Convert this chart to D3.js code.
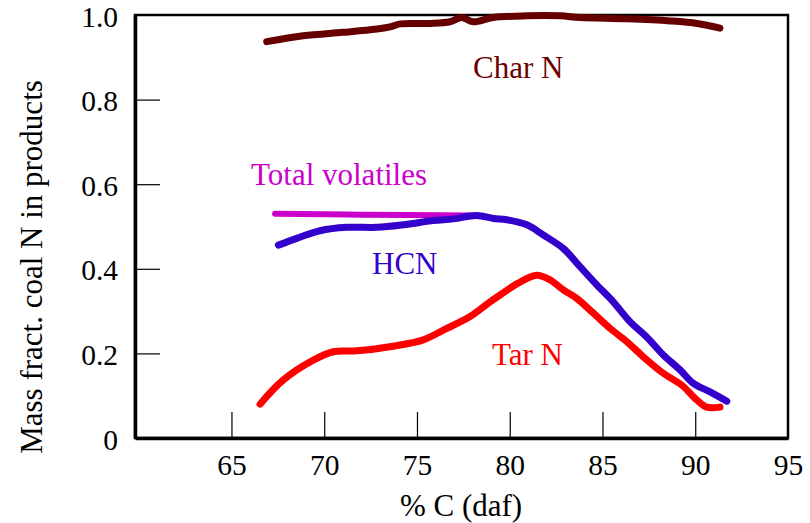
<!DOCTYPE html>
<html>
<head>
<meta charset="utf-8">
<script src="https://cdn.jsdelivr.net/npm/d3@7/dist/d3.min.js"></script>
<style>
  html, body { margin: 0; padding: 0; background: #fff; }
  svg { display: block; }
</style>
</head>
<body>
<svg id="chart" width="810" height="523"></svg>
<script>
// Fraction of coal nitrogen ending up in each product vs. carbon content (% C, daf)
const FONT = "'Liberation Serif', 'Times New Roman', Tinos, 'DejaVu Serif', serif";

const xTicks = [65, 70, 75, 80, 85, 90, 95];
const yTicks = [0, 0.2, 0.4, 0.6, 0.8, 1.0];
const yTickLabels = ["0", "0.2", "0.4", "0.6", "0.8", "1.0"];

const charNC = [66.9, 68.86, 71.0, 72.47, 73.55, 74.09, 75.7, 76.78, 77.41, 78.02, 79.1, 80.93, 82.71, 83.79, 86.32, 88.64, 90.1, 91.33];
const charN  = [0.937, 0.951, 0.959, 0.965, 0.972, 0.979, 0.980, 0.984, 0.994, 0.984, 0.994, 0.998, 0.998, 0.994, 0.991, 0.986, 0.980, 0.969];

const volC = [67.35, 72.0, 78.04];
const vol  = [0.530, 0.528, 0.526];

const hcnC = [67.53, 68.52, 69.77, 71.21, 72.83, 74.26, 75.88, 76.96, 78.22, 79.12, 79.84, 80.92, 81.81, 82.89, 83.79, 84.69, 85.58, 86.48, 87.38, 88.28, 89.18, 89.9, 90.8, 91.7];
const hcn  = [0.456, 0.472, 0.490, 0.498, 0.498, 0.504, 0.514, 0.518, 0.526, 0.519, 0.516, 0.504, 0.480, 0.448, 0.405, 0.362, 0.322, 0.275, 0.239, 0.196, 0.161, 0.129, 0.109, 0.087];

const tarC = [66.54, 67.79, 69.41, 70.49, 71.75, 73.72, 75.34, 76.42, 77.86, 78.94, 79.48, 80.45, 81.45, 82.17, 82.89, 83.61, 84.51, 85.41, 86.31, 87.2, 88.28, 89.27, 90.08, 90.62, 91.33];
const tar  = [0.080, 0.137, 0.184, 0.204, 0.206, 0.217, 0.232, 0.255, 0.287, 0.322, 0.338, 0.366, 0.385, 0.374, 0.350, 0.330, 0.295, 0.259, 0.228, 0.192, 0.153, 0.125, 0.090, 0.073, 0.073];

const svg = d3.select("#chart");
const x = d3.scaleLinear().domain([59.8, 95]).range([135, 788]);
const y = d3.scaleLinear().domain([0, 1]).range([438, 15]);

// frame
svg.append("rect")
  .attr("x", x(59.8)).attr("y", y(1))
  .attr("width", x(95) - x(59.8)).attr("height", y(0) - y(1))
  .attr("fill", "none").attr("stroke", "#000").attr("stroke-width", 2.5);

// bottom axis: inward ticks, labels below
const xAxis = d3.axisBottom(x).tickValues(xTicks).tickSize(-26).tickSizeOuter(0).tickPadding(0).tickFormat(d3.format("d"));
const gx = svg.append("g").attr("transform", `translate(0,${y(0)})`).call(xAxis);
gx.attr("font-family", FONT);
gx.select(".domain").attr("stroke", "#000").attr("stroke-width", 3.5);
gx.selectAll(".tick line").attr("stroke", "#000").attr("stroke-width", 1.2).filter(d => d === 95).remove();
gx.selectAll(".tick text").attr("y", 37).attr("dy", 0)
  .attr("font-family", FONT).attr("font-size", 29.5).attr("fill", "#000");

// left axis: inward ticks, labels on the left
const yAxis = d3.axisLeft(y).tickValues(yTicks).tickSize(-25).tickSizeOuter(0).tickPadding(0)
  .tickFormat((d, i) => yTickLabels[i]);
const gy = svg.append("g").attr("transform", `translate(${x(59.8)},0)`).call(yAxis);
gy.attr("font-family", FONT);
gy.select(".domain").attr("stroke", "#000").attr("stroke-width", 3.5);
gy.selectAll(".tick line").attr("stroke", "#000").attr("stroke-width", 1.2).filter(d => d === 0 || d === 1).remove();
gy.selectAll(".tick text").attr("x", -17).attr("dy", 0).attr("y", 11)
  .attr("font-family", FONT).attr("font-size", 29.5).attr("fill", "#000");

// axis titles
svg.append("text")
  .attr("x", 461).attr("y", 516)
  .attr("text-anchor", "middle").attr("font-family", FONT).attr("font-size", 31)
  .text("% C (daf)");
svg.append("text")
  .attr("transform", "translate(42,267) rotate(-90)")
  .attr("text-anchor", "middle").attr("font-family", FONT).attr("font-size", 31)
  .text("Mass fract. coal N in products");

// series
const line = d3.line().x(d => x(d[0])).y(d => y(d[1])).curve(d3.curveCatmullRom.alpha(0.5));
const series = [
  { c: volC, v: vol, color: "#cc00cc", w: 6 },
  { c: tarC, v: tar, color: "#ff0000", w: 7 },
  { c: hcnC, v: hcn, color: "#3300cc", w: 7 },
  { c: charNC, v: charN, color: "#660000", w: 7 }
];
series.forEach(s => {
  svg.append("path")
    .datum(d3.zip(s.c, s.v))
    .attr("d", line)
    .attr("fill", "none")
    .attr("stroke", s.color)
    .attr("stroke-width", s.w)
    .attr("stroke-linecap", "round")
    .attr("stroke-linejoin", "round");
});

// series labels
const labels = [
  { t: "Char N", x: 473, y: 78, color: "#6b0000" },
  { t: "Total volatiles", x: 251, y: 185, color: "#cc00cc" },
  { t: "HCN", x: 372, y: 274, color: "#3300cc" },
  { t: "Tar N", x: 492, y: 365, color: "#ff0000" }
];
labels.forEach(l => {
  svg.append("text").attr("x", l.x).attr("y", l.y)
    .attr("font-family", FONT).attr("font-size", 31).attr("fill", l.color).text(l.t);
});
</script>
</body>
</html>
